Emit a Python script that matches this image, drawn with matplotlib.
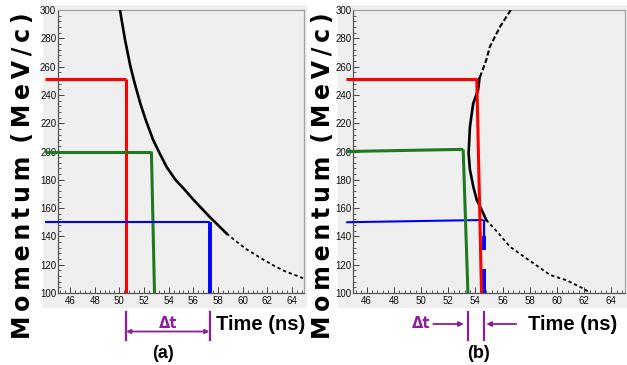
import matplotlib
matplotlib.use("Agg")
import matplotlib.pyplot as plt
from matplotlib.ticker import MultipleLocator
from matplotlib.patches import Rectangle
from matplotlib import font_manager

# ---------------- data ----------------
# panel (a): time-of-flight band (ns) vs momentum (MeV/c)
curve_a_t = [50.05, 50.46, 50.9, 51.25, 51.7, 52.15, 52.75, 53.25, 53.84, 54.55,
             55.3, 56.0, 57.3, 58.0, 58.7, 59.4, 60.3, 61.5, 62.6, 63.4, 64.9]
curve_a_p = [300, 279, 260, 248, 234, 222, 208, 199, 189, 180,
             173, 166, 154, 148, 142, 137, 131, 124.5, 119, 115.5, 110.5]
# panel (b)
curve_b_t = [56.6, 55.8, 55.06, 54.8, 54.3, 54.2, 53.84, 53.7, 53.6, 53.5, 53.6, 53.85,
             54.1, 54.46, 54.8, 55.7, 56.54, 57.75, 59.5, 60.7, 61.9, 62.3]
curve_b_p = [300, 288, 274, 264.7, 251.7, 243.5, 234, 224.6, 217.5, 198.7, 187, 175,
             165.7, 158.7, 151.6, 142.2, 132.7, 124.5, 112.7, 109, 103.3, 101]

# guide lines: momentum levels and the times where they cross
levels = [251.5, 200, 150]
guide_colors = ["#ff0000", "#1f7a1f", "#0000ff"]
# panel (a): (t at corner, t at bottom)
times_a = [(50.5, 50.5), (52.6, 52.85), (57.35, 57.35)]
# panel (b): (t at corner, t at bottom), corner momentum
times_b = [(54.1, 54.45), (53.1, 53.45), (54.6, 54.6)]
corner_p_b = [251.5, 201.5, 151.6]
blue_gap_b = (117, 130.5)

dt_a = (50.5, 57.35)
dt_b = (53.45, 54.6)

x_ticks_major = 2
y_ticks_major = 20

# ---------------- style ----------------
names = {f.name for f in font_manager.fontManager.ttflist}
tick_font = "Liberation Sans Narrow" if "Liberation Sans Narrow" in names else "Liberation Sans"
label_font = "Liberation Sans"
purple = "#8B1E9B"
bg = "#efefef"

fig = plt.figure(figsize=(6.27, 3.65), dpi=100)
fig.patch.set_facecolor("white")

W, H = 627.0, 365.0
def fx(px): return px / W
def fy(py): return 1 - py / H

# gray panels
fig.patches.append(Rectangle((fx(43), fy(308)), (307 - 43) / W, (308 - 5) / H,
                             transform=fig.transFigure, facecolor=bg, edgecolor="none", zorder=-5))
fig.patches.append(Rectangle((fx(338), fy(308)), (627 - 338) / W, (308 - 5) / H,
                             transform=fig.transFigure, facecolor=bg, edgecolor="none", zorder=-5))

axA = fig.add_axes([fx(57.7), fy(293), (304.3 - 57.7) / W, (293 - 10) / H])
axB = fig.add_axes([fx(353), fy(293), (625 - 353) / W, (293 - 10) / H])

for ax in (axA, axB):
    ax.set_zorder(2)
    ax.set_facecolor(bg)
    ax.set_xlim(45, 65)
    ax.set_ylim(100, 300)
    ax.xaxis.set_major_locator(MultipleLocator(x_ticks_major))
    ax.xaxis.set_minor_locator(MultipleLocator(0.4))
    ax.yaxis.set_major_locator(MultipleLocator(y_ticks_major))
    ax.yaxis.set_minor_locator(MultipleLocator(4))
    ax.tick_params(which="both", direction="in", colors="#444444", top=False, right=False)
    ax.tick_params(which="major", length=4.0, width=0.7, labelsize=7, pad=2)
    ax.tick_params(which="minor", length=2.0, width=0.6)
    ax.tick_params(axis="y", which="major", pad=1)
    for lab in ax.get_xticklabels() + ax.get_yticklabels():
        lab.set_fontfamily(tick_font)
        lab.set_color("#111111")
    for s in ("top", "right"):
        ax.spines[s].set_color("#a0a0a0")
    for s in ("left", "bottom"):
        ax.spines[s].set_color("#555555")
    for s in ax.spines.values():
        s.set_linewidth(0.9)

# ---- panel (a) ----
dense_a = [i for i, p in enumerate(curve_a_p) if p >= 142]
sparse_a = [i for i, p in enumerate(curve_a_p) if p <= 142]
axA.plot([curve_a_t[i] for i in dense_a], [curve_a_p[i] for i in dense_a],
         color="black", lw=1.9, zorder=3, solid_joinstyle="round")
axA.plot([curve_a_t[i] for i in sparse_a], [curve_a_p[i] for i in sparse_a],
         color="black", lw=1.3, ls=(0, (1.8, 1.6)), zorder=3)

for lvl, col, (tc, tb) in zip(levels, guide_colors, times_a):
    hw = 1.5 if col == "#0000ff" else 2.2
    vw = 2.8 if col == "#0000ff" else 2.2
    axA.plot([44.0, tc], [lvl, lvl], color=col, lw=hw, clip_on=False, zorder=4,
             solid_capstyle="butt")
    axA.plot([tc, tb], [lvl, 100], color=col, lw=vw, zorder=4, solid_capstyle="butt")

# ---- panel (b) ----
dense_b = [i for i, p in enumerate(curve_b_p) if 150 <= p <= 252]
upper_b = [i for i, p in enumerate(curve_b_p) if p >= 251]
lower_b = [i for i, p in enumerate(curve_b_p) if p <= 152]
axB.plot([curve_b_t[i] for i in dense_b], [curve_b_p[i] for i in dense_b],
         color="black", lw=1.9, zorder=3, solid_joinstyle="round")
axB.plot([curve_b_t[i] for i in upper_b], [curve_b_p[i] for i in upper_b],
         color="black", lw=1.5, ls=(0, (2.5, 1.2)), zorder=3)
axB.plot([curve_b_t[i] for i in lower_b], [curve_b_p[i] for i in lower_b],
         color="black", lw=1.3, ls=(0, (1.8, 1.6)), zorder=3)

for lvl, col, (tc, tb), pc in zip(levels, guide_colors, times_b, corner_p_b):
    hw = 1.5 if col == "#0000ff" else 2.2
    axB.plot([44.5, tc], [lvl, pc], color=col, lw=hw, clip_on=False, zorder=4,
             solid_capstyle="butt")
    if col == "#0000ff":
        axB.plot([tc, tc], [pc, 140], color=col, lw=1.6, zorder=4, solid_capstyle="butt")
        axB.plot([tc, tc], [140, blue_gap_b[1]], color=col, lw=2.8, zorder=4, solid_capstyle="butt")
        axB.plot([tc, tb], [blue_gap_b[0], 100], color=col, lw=2.8, zorder=4, solid_capstyle="butt")
    else:
        axB.plot([tc, tb], [pc, 100], color=col, lw=2.2, zorder=5, solid_capstyle="butt")

# ---------------- annotations below axes ----------------
def yfrac(py):
    return (293 - py) / 283.0

for ax, (t1, t2) in ((axA, dt_a), (axB, dt_b)):
    tr = ax.get_xaxis_transform()
    for t in (t1, t2):
        ax.plot([t, t], [yfrac(311.5), yfrac(339.5)], color=purple, lw=1.6,
                transform=tr, clip_on=False)

trA = axA.get_xaxis_transform()
axA.annotate("", xy=(dt_a[0] + 0.05, yfrac(331.5)), xytext=(dt_a[1] - 0.05, yfrac(331.5)),
             xycoords=trA, textcoords=trA,
             arrowprops=dict(arrowstyle="<|-|>", color=purple, lw=1.3,
                             mutation_scale=6, shrinkA=0, shrinkB=0), annotation_clip=False)
axA.text((dt_a[0] + dt_a[1]) / 2, yfrac(323), "Δt", transform=trA, color=purple,
         fontsize=10.5, fontweight="bold", ha="center", va="center", family="DejaVu Sans")
axA.text(57.8, yfrac(324), "Time (ns)", transform=trA, color="black",
         fontsize=14.5, fontweight="bold", ha="left", va="center", family=label_font)
axA.text(53.5, yfrac(354), "(a)", transform=trA, color="black",
         fontsize=13, fontweight="bold", ha="center", va="center", family=label_font)

trB = axB.get_xaxis_transform()
axB.annotate("", xy=(dt_b[0] - 0.3, yfrac(324)), xytext=(50.9, yfrac(324)),
             xycoords=trB, textcoords=trB,
             arrowprops=dict(arrowstyle="-|>", color=purple, lw=1.3,
                             mutation_scale=7, shrinkA=0, shrinkB=0), annotation_clip=False)
axB.annotate("", xy=(dt_b[1] + 0.2, yfrac(324)), xytext=(57.0, yfrac(324)),
             xycoords=trB, textcoords=trB,
             arrowprops=dict(arrowstyle="-|>", color=purple, lw=1.3,
                             mutation_scale=7, shrinkA=0, shrinkB=0), annotation_clip=False)
axB.text(50.0, yfrac(324), "Δt", transform=trB, color=purple,
         fontsize=10.5, fontweight="bold", ha="center", va="center", family="DejaVu Sans")
axB.text(57.9, yfrac(324), "Time (ns)", transform=trB, color="black",
         fontsize=14.5, fontweight="bold", ha="left", va="center", family=label_font)
axB.text(54.2, yfrac(354), "(b)", transform=trB, color="black",
         fontsize=13, fontweight="bold", ha="center", va="center", family=label_font)

# y-axis titles (letter-spaced)
ylab = "\u2009".join("Momentum") + "\u2009 " + "\u2009".join("(MeV/c)")
fig.text(fx(23), fy(176), ylab, rotation=90, ha="center", va="center",
         fontsize=17, fontweight="bold", family="DejaVu Sans", color="black")
fig.text(fx(323), fy(176), ylab, rotation=90, ha="center", va="center",
         fontsize=17, fontweight="bold", family="DejaVu Sans", color="black")

fig.savefig("out.png", dpi=100, facecolor="white")
